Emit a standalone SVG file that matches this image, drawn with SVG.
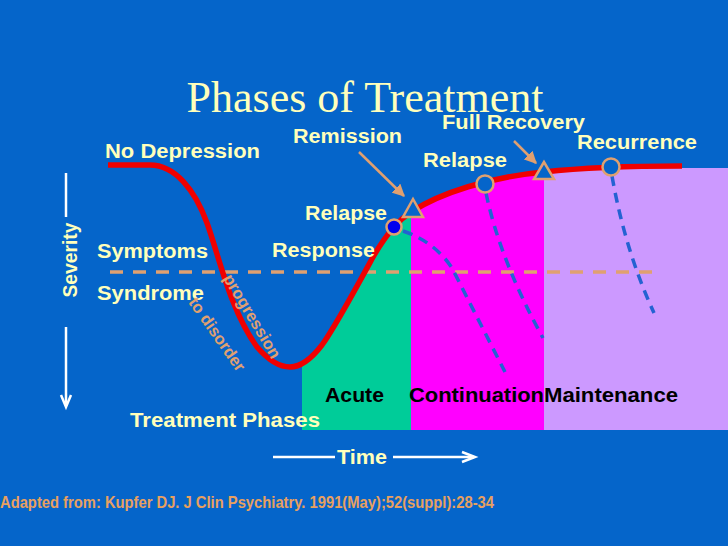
<svg xmlns="http://www.w3.org/2000/svg" width="728" height="546" viewBox="0 0 728 546">
<style>
.lbl{font-family:"Liberation Sans",Arial,sans-serif;font-weight:bold;font-size:20px;fill:#FFFFBB}
.ph{font-family:"Liberation Sans",Arial,sans-serif;font-weight:bold;font-size:20px;fill:#000000}
.tan{font-family:"Liberation Sans",Arial,sans-serif;font-weight:bold;font-size:16.5px;fill:#E0A070}
.bdash{fill:none;stroke:#2462D2;stroke-width:3.5;stroke-dasharray:10 7}
.mk{fill:#0565CA;stroke:#E0A070;stroke-width:2.5}
.ax{stroke:#FFFFFF;stroke-width:2.5;fill:none}
</style>
<defs>
<marker id="ah" viewBox="0 0 10 10" refX="9" refY="5" markerWidth="5" markerHeight="5" orient="auto">
<path d="M0,0 L10,5 L0,10 Z" fill="#E0A070"/>
</marker>
<clipPath id="under">
<path d="M108,165 L150,165 C175,165 195,190 207,223 C219,256 230,310 257,347 C270,362 280,367 290,367 C302,367 312,358 322,345 C335,327 355,290 373,257 C380,245 387,235 394,227 C400,220 405,216 411,212 C440,193 490,177 544,172 C580,168 620,166 682,166 L682,168 L728,168 L728,430 L108,430 Z"/>
</clipPath>
</defs>
<rect x="0" y="0" width="728" height="546" fill="#0565CA"/>
<text x="365" y="112" text-anchor="middle" font-family="'Liberation Serif',serif" font-size="44" fill="#FFFFBB">Phases of Treatment</text>

<g id="phases" clip-path="url(#under)">
<rect x="302" y="150" width="109" height="280" fill="#00CC99"/>
<rect x="411" y="150" width="133" height="280" fill="#FF00FF"/>
<rect x="544" y="150" width="184" height="280" fill="#CC99FF"/>
</g>

<g id="connectors">
<line x1="110" y1="272" x2="655" y2="272" stroke="#E0A070" stroke-width="3.5" stroke-dasharray="13 10"/>
<path class="bdash" d="M403,231 Q435,242 452,268 L505,372"/>
<path class="bdash" d="M486,193 Q500,260 543,338"/>
<path class="bdash" d="M612,176 Q625,250 654,313"/>
<path d="M108,165 L150,165 C175,165 195,190 207,223 C219,256 230,310 257,347 C270,362 280,367 290,367 C302,367 312,358 322,345 C335,327 355,290 373,257 C380,245 387,235 394,227 C400,220 405,216 411,212 C440,193 490,177 544,172 C580,168 620,166 682,166" fill="none" stroke="#F00000" stroke-width="5.5" stroke-linejoin="round"/>
<line x1="359" y1="152" x2="404" y2="196" stroke="#E0A070" stroke-width="2.5" marker-end="url(#ah)"/>
<line x1="514" y1="141" x2="536" y2="163" stroke="#E0A070" stroke-width="2.5" marker-end="url(#ah)"/>
</g>

<g id="markers">
<circle id="response-pt" cx="394" cy="227" r="7.5" fill="#0000EE" stroke="#E0A070" stroke-width="2.5"/>
<polygon id="remission-pt" class="mk" points="413,199 403,217 423,217"/>
<circle id="relapse-pt" class="mk" cx="485" cy="184" r="8.5"/>
<polygon id="recovery-pt" class="mk" points="544,162 534,179 554,179"/>
<circle id="recurrence-pt" class="mk" cx="611" cy="167" r="8.5"/>
</g>

<g id="labels">
<text class="lbl" x="105" y="158" textLength="155" lengthAdjust="spacingAndGlyphs">No Depression</text>
<text class="lbl" x="293" y="143" textLength="109" lengthAdjust="spacingAndGlyphs">Remission</text>
<text class="lbl" x="442" y="129" textLength="143" lengthAdjust="spacingAndGlyphs">Full Recovery</text>
<text class="lbl" x="577" y="149" textLength="120" lengthAdjust="spacingAndGlyphs">Recurrence</text>
<text class="lbl" x="423" y="167" textLength="84" lengthAdjust="spacingAndGlyphs">Relapse</text>
<text class="lbl" x="305" y="220" textLength="82" lengthAdjust="spacingAndGlyphs">Relapse</text>
<text class="lbl" x="272" y="257" textLength="103" lengthAdjust="spacingAndGlyphs">Response</text>
<text class="lbl" x="97" y="258" textLength="111" lengthAdjust="spacingAndGlyphs">Symptoms</text>
<text class="lbl" x="97" y="300" textLength="107" lengthAdjust="spacingAndGlyphs">Syndrome</text>
<text class="lbl" x="130" y="427" textLength="190" lengthAdjust="spacingAndGlyphs">Treatment Phases</text>
<text class="ph" x="325" y="402" textLength="59" lengthAdjust="spacingAndGlyphs">Acute</text>
<text class="ph" x="409" y="402" textLength="135" lengthAdjust="spacingAndGlyphs">Continuation</text>
<text class="ph" x="544" y="402" textLength="134" lengthAdjust="spacingAndGlyphs">Maintenance</text>
<text class="tan" transform="translate(252.5,316) rotate(59)" text-anchor="middle" dominant-baseline="central">progression</text>
<text class="tan" transform="translate(217.5,334) rotate(55)" text-anchor="middle" dominant-baseline="central">to disorder</text>
</g>

<g id="severity-axis">
<line class="ax" x1="66" y1="173" x2="66" y2="217"/>
<line class="ax" x1="66" y1="327" x2="66" y2="406"/>
<path class="ax" d="M61,395 L66,407 L71,395" stroke-width="2"/>
<text class="lbl" transform="translate(70,260) rotate(-90)" text-anchor="middle" dominant-baseline="central" textLength="75" lengthAdjust="spacingAndGlyphs">Severity</text>
</g>

<g id="time-axis">
<line class="ax" x1="273" y1="457" x2="335" y2="457"/>
<line class="ax" x1="393" y1="457" x2="474" y2="457"/>
<path class="ax" d="M462,452 L475,457 L462,462" stroke-width="2"/>
<text class="lbl" x="337" y="464" textLength="50" lengthAdjust="spacingAndGlyphs">Time</text>
</g>

<text x="0" y="508" font-family="'Liberation Sans',Arial,sans-serif" font-weight="bold" font-size="17" fill="#E8A060" textLength="494" lengthAdjust="spacingAndGlyphs">Adapted from: Kupfer DJ. J Clin Psychiatry. 1991(May);52(suppl):28-34</text>
</svg>
